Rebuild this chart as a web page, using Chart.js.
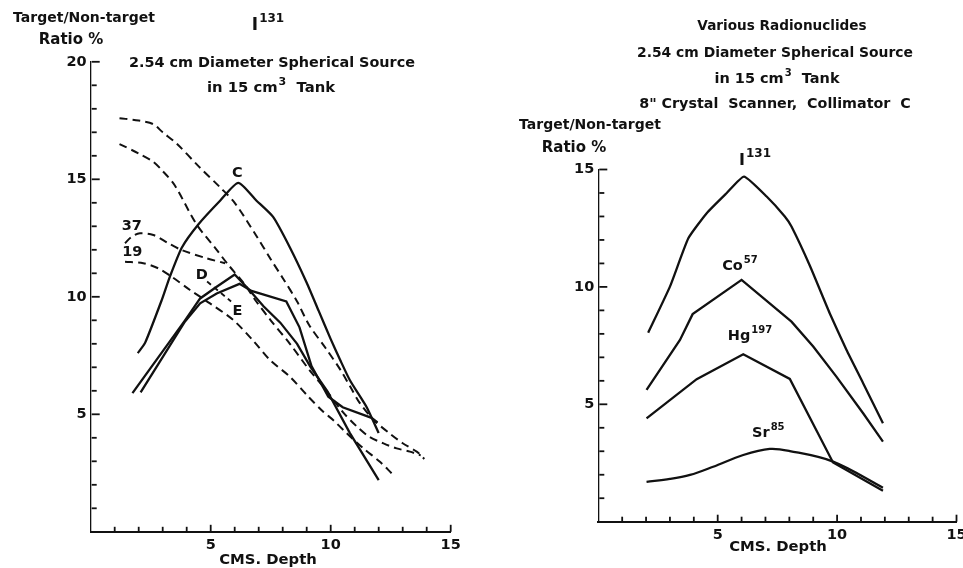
<!DOCTYPE html>
<html lang="en">
<head>
<meta charset="UTF-8">
<title>Target/Non-target Ratio vs Depth</title>
<script src="https://cdn.jsdelivr.net/npm/chart.js@4.4.1/dist/chart.umd.min.js"></script>
<style>
  html, body { margin: 0; padding: 0; background: #fff; overflow: hidden; }
  #wrap { position: relative; width: 963px; height: 568px; overflow: hidden; }
  #leftChart { position: absolute; left: 0; top: 0; }
  #rightChart { position: absolute; left: 480px; top: 0; }
</style>
</head>
<body>
<div id="wrap">
  <canvas id="leftChart" width="480" height="568"></canvas>
  <canvas id="rightChart" width="500" height="568"></canvas>
</div>
<script>
// ---- left panel: I-131, collimators (depth cm -> ratio %) ----
const cDepth = [1.96, 2.27, 2.96, 3.3, 3.8, 4.5, 5.4, 6.15, 6.9, 7.6, 8.3, 9.0, 9.5, 10.0, 10.4, 10.8, 11.5, 12.0];
const cRatio = [7.6, 8.05, 9.86, 10.86, 12.1, 13.1, 14.1, 14.85, 14.1, 13.4, 12.1, 10.6, 9.4, 8.2, 7.3, 6.45, 5.3, 4.2];

const dDepth = [1.74, 3.93, 4.56, 5.25, 6.0, 6.6, 7.2, 7.9, 8.6, 9.15, 9.85, 10.8, 12.0];
const dRatio = [5.9, 9.0, 9.93, 10.43, 10.95, 10.3, 9.6, 8.9, 8.0, 7.03, 6.0, 4.2, 2.2];

const eDepth = [2.08, 3.93, 4.56, 5.25, 6.2, 6.7, 8.15, 8.7, 9.2, 9.9, 10.5, 11.7, 11.95];
const eRatio = [5.93, 8.95, 9.72, 10.14, 10.55, 10.25, 9.8, 8.7, 7.05, 5.75, 5.3, 4.85, 4.65];

const aDepth = [1.2, 2.0, 2.6, 3.0, 3.6, 4.5, 5.4, 6.0, 6.9, 7.5, 8.0, 8.6, 9.1, 9.8, 10.4, 10.8, 11.2, 11.8, 12.5, 13.0, 13.6, 13.9];
const aRatio = [17.6, 17.5, 17.35, 17.0, 16.5, 15.55, 14.65, 14.0, 12.6, 11.6, 10.8, 9.8, 8.8, 7.8, 6.9, 6.2, 5.5, 4.75, 4.15, 3.77, 3.4, 3.1];

const bDepth = [1.2, 2.0, 2.6, 3.0, 3.5, 4.4, 5.25, 5.7, 6.4, 6.9, 7.5, 8.3, 9.1, 9.8, 10.5, 11.1, 11.6, 12.2, 12.75, 13.3, 13.75];
const bRatio = [16.5, 16.1, 15.75, 15.35, 14.75, 13.1, 12.0, 11.4, 10.55, 9.8, 9.0, 8.0, 6.9, 6.04, 5.1, 4.47, 4.05, 3.76, 3.55, 3.41, 3.25];

const h37Depth = [1.43, 1.7, 2.05, 2.61, 3.2, 3.79, 4.83, 5.6];
const h37Ratio = [12.28, 12.55, 12.7, 12.63, 12.3, 11.99, 11.64, 11.43];

const h19Depth = [1.43, 2.19, 2.82, 3.37, 4.14, 4.97, 5.94, 6.8, 7.47, 8.3, 9.07, 9.7, 10.1, 10.67, 11.36, 12.05, 12.54];
const h19Ratio = [11.49, 11.43, 11.21, 10.86, 10.29, 9.72, 9.01, 8.1, 7.31, 6.6, 5.75, 5.1, 4.76, 4.19, 3.55, 2.98, 2.49];

// ---- right panel: various radionuclides, collimator C ----
const iDepth = [2.09, 3.0, 3.77, 4.54, 5.37, 6.1, 7.05, 7.81, 8.09, 8.86, 9.69, 10.39, 11.09, 11.92];
const iRatio = [8.05, 10.01, 12.07, 13.14, 13.99, 14.7, 13.85, 13.0, 12.57, 10.9, 8.88, 7.32, 5.9, 4.19];

const coDepth = [2.02, 3.42, 3.95, 6.0, 8.09, 9.0, 9.97, 11.09, 11.92];
const coRatio = [5.61, 7.74, 8.84, 10.3, 8.52, 7.46, 6.18, 4.62, 3.41];

const hgDepth = [2.02, 4.12, 6.07, 8.02, 9.83, 11.92];
const hgRatio = [4.4, 6.07, 7.13, 6.08, 2.52, 1.32];

const srDepth = [2.02, 3.0, 3.84, 4.81, 6.07, 7.18, 8.02, 9.83, 11.92];
const srRatio = [1.7, 1.82, 1.99, 2.34, 2.84, 3.1, 3.01, 2.56, 1.45];

const xTicks = [5, 10, 15];

const FONT = '"DejaVu Sans", "Liberation Sans", sans-serif';
const INK = '#111';

function pts(xs, ys) {
  return xs.map((x, i) => ({ x: x, y: ys[i] }));
}

function line(xs, ys, dashed, tension) {
  return {
    data: pts(xs, ys),
    borderColor: INK,
    borderWidth: dashed ? 2 : 2.3,
    borderDash: dashed ? [8, 5] : [],
    pointRadius: 0,
    tension: tension || 0,
    fill: false
  };
}

// draws text made of parts, some raised as superscripts, centred on x
function drawParts(ctx, parts, x, y, size) {
  const supSize = Math.round(size * 0.72);
  let total = 0;
  parts.forEach(p => {
    ctx.font = 'bold ' + (p.sup ? supSize : size) + 'px ' + FONT;
    p.w = ctx.measureText(p.t).width + (p.sup ? 1 : 0);
    total += p.w;
  });
  let cx = x - total / 2;
  ctx.textAlign = 'left';
  ctx.textBaseline = 'middle';
  parts.forEach(p => {
    ctx.font = 'bold ' + (p.sup ? supSize : size) + 'px ' + FONT;
    ctx.fillText(p.t, cx + (p.sup ? 1 : 0), p.sup ? y - size * 0.42 : y);
    cx += p.w;
  });
}

const paperPlugin = {
  id: 'paper',
  afterDraw(chart, args, opts) {
    const ctx = chart.ctx;
    const xs = chart.scales.x, ys = chart.scales.y;
    ctx.save();
    ctx.strokeStyle = INK;
    ctx.fillStyle = INK;
    ctx.lineWidth = 1.8;
    // inward tick marks, one per unit
    for (let v = 1; v <= xs.max; v++) {
      const px = xs.getPixelForValue(v);
      const len = v % 5 === 0 ? 7 : 5;
      ctx.beginPath(); ctx.moveTo(px, xs.top); ctx.lineTo(px, xs.top - len); ctx.stroke();
    }
    for (let v = 1; v <= ys.max; v++) {
      const py = ys.getPixelForValue(v);
      const len = v % 5 === 0 ? 8 : 5;
      ctx.beginPath(); ctx.moveTo(ys.right + 1, py); ctx.lineTo(ys.right + 1 + len, py); ctx.stroke();
    }
    // leader lines between labels
    ctx.setLineDash([5, 4]);
    ctx.lineWidth = 1.8;
    (opts.leaders || []).forEach(l => {
      ctx.beginPath();
      ctx.moveTo(xs.getPixelForValue(l[0]), ys.getPixelForValue(l[1]));
      ctx.lineTo(xs.getPixelForValue(l[2]), ys.getPixelForValue(l[3]));
      ctx.stroke();
    });
    ctx.setLineDash([]);
    // curve labels placed in data units
    (opts.marks || []).forEach(m => {
      drawParts(ctx, m.parts, xs.getPixelForValue(m.depth), ys.getPixelForValue(m.ratio), m.size || 14.5);
    });
    // titles placed on the canvas
    (opts.texts || []).forEach(t => {
      drawParts(ctx, t.parts, t.x, t.y, t.size || 14);
    });
    ctx.restore();
  }
};

function makeChart(id, datasets, yMax, pad, xHeight, paper) {
  return new Chart(document.getElementById(id), {
    type: 'line',
    data: { datasets: datasets },
    plugins: [paperPlugin],
    options: {
      responsive: false,
      animation: false,
      layout: { padding: pad },
      plugins: { legend: { display: false }, tooltip: { enabled: false }, paper: paper },
      scales: {
        x: {
          type: 'linear', min: 0, max: 15,
          afterBuildTicks: s => { s.ticks = xTicks.map(v => ({ value: v })); },
          afterFit: s => { s.height = xHeight; },
          grid: { display: false, drawTicks: false },
          border: { display: true, color: INK, width: 2 },
          ticks: { color: INK, padding: 5, font: { family: FONT, size: 14.5, weight: 'bold' } }
        },
        y: {
          type: 'linear', min: 0, max: yMax,
          ticks: {
            stepSize: 5, color: INK, padding: 4,
            font: { family: FONT, size: 14.5, weight: 'bold' },
            callback: v => v === 0 ? '' : v
          },
          afterFit: s => { s.width = 40; },
          grid: { display: false, drawTicks: false },
          border: { display: true, color: INK, width: 1.3, dash: [3, 2] }
        }
      }
    }
  });
}

makeChart('leftChart', [
  line(cDepth, cRatio, false, 0.2),
  line(dDepth, dRatio, false, 0),
  line(eDepth, eRatio, false, 0),
  line(aDepth, aRatio, true, 0.3),
  line(bDepth, bRatio, true, 0.3),
  line(h37Depth, h37Ratio, true, 0.3),
  line(h19Depth, h19Ratio, true, 0.3)
], 20, { left: 50.7, right: 29.3, top: 61.8, bottom: 0 }, 36.2, {
  leaders: [[4.85, 10.65, 5.85, 9.8]],
  marks: [
    { parts: [{ t: 'C' }], depth: 6.11, ratio: 15.26 },
    { parts: [{ t: '37' }], depth: 1.71, ratio: 13.01 },
    { parts: [{ t: '19' }], depth: 1.73, ratio: 11.9 },
    { parts: [{ t: 'D' }], depth: 4.63, ratio: 10.93 },
    { parts: [{ t: 'E' }], depth: 6.11, ratio: 9.4 }
  ],
  texts: [
    { parts: [{ t: 'Target/Non-target' }], x: 84, y: 18 },
    { parts: [{ t: 'Ratio %' }], x: 71, y: 40, size: 15 },
    { parts: [{ t: 'I' }, { t: '131', sup: true }], x: 268, y: 26, size: 17 },
    { parts: [{ t: '2.54 cm Diameter Spherical Source' }], x: 272, y: 63, size: 14.4 },
    { parts: [{ t: 'in 15 cm' }, { t: '3', sup: true }, { t: '  Tank' }], x: 271, y: 88, size: 14.8 },
    { parts: [{ t: 'CMS. Depth' }], x: 268, y: 560, size: 14.8 }
  ]
});

makeChart('rightChart', [
  line(iDepth, iRatio, false, 0.15),
  line(coDepth, coRatio, false, 0),
  line(hgDepth, hgRatio, false, 0),
  line(srDepth, srRatio, false, 0.35)
], 15, { left: 78.3, right: 23.5, top: 169.5, bottom: 0 }, 46.3, {
  marks: [
    { parts: [{ t: 'Co' }, { t: '57', sup: true }], depth: 5.93, ratio: 10.86 },
    { parts: [{ t: 'Hg' }, { t: '197', sup: true }], depth: 6.35, ratio: 7.88 },
    { parts: [{ t: 'Sr' }, { t: '85', sup: true }], depth: 7.12, ratio: 3.77 }
  ],
  texts: [
    { parts: [{ t: 'Various Radionuclides' }], x: 302, y: 26, size: 13.6 },
    { parts: [{ t: '2.54 cm Diameter Spherical Source' }], x: 295, y: 53, size: 13.9 },
    { parts: [{ t: 'in 15 cm' }, { t: '3', sup: true }, { t: '  Tank' }], x: 297, y: 79, size: 14.5 },
    { parts: [{ t: '8" Crystal  Scanner,  Collimator  C' }], x: 295, y: 104, size: 14.3 },
    { parts: [{ t: 'Target/Non-target' }], x: 110, y: 125 },
    { parts: [{ t: 'Ratio %' }], x: 94, y: 148, size: 15 },
    { parts: [{ t: 'I' }, { t: '131', sup: true }], x: 275, y: 161, size: 16 },
    { parts: [{ t: 'CMS. Depth' }], x: 298, y: 547, size: 14.8 }
  ]
});
</script>
</body>
</html>
